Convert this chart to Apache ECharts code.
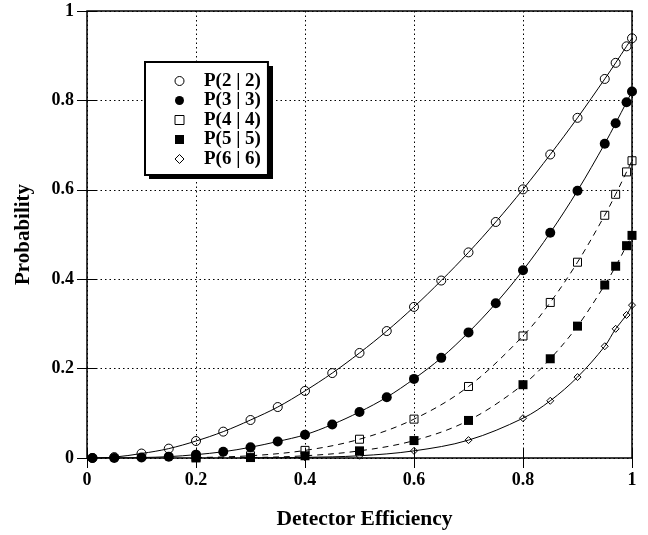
<!DOCTYPE html>
<html>
<head>
<meta charset="utf-8">
<script src="https://cdn.jsdelivr.net/npm/echarts@6/dist/echarts.min.js"></script>
<style>
  html, body { margin: 0; padding: 0; background: #fff; }
  #chart { width: 648px; height: 535px; }
</style>
</head>
<body>
<div id="chart"></div>
<script>
// Detection probability P(n|n) versus detector efficiency
const effFine = [0.01, 0.05, 0.1, 0.15, 0.2, 0.25, 0.3, 0.35, 0.4, 0.45, 0.5, 0.55,
                 0.6, 0.65, 0.7, 0.75, 0.8, 0.85, 0.9, 0.95, 0.97, 0.99, 1.0];
const effCoarse = [0.2, 0.3, 0.4, 0.5, 0.6, 0.7, 0.8, 0.85, 0.9, 0.95, 0.97, 0.99, 1.0];
const effSix = [0.3, 0.4, 0.5, 0.6, 0.7, 0.8, 0.85, 0.9, 0.95, 0.97, 0.99, 1.0];

const p22 = [0.0, 0.002, 0.010, 0.021, 0.038, 0.059, 0.085, 0.114, 0.150, 0.190, 0.235, 0.284,
             0.338, 0.397, 0.460, 0.528, 0.601, 0.679, 0.761, 0.848, 0.884, 0.921, 0.939];
const p33 = [0.0, 0.0, 0.001, 0.003, 0.0075, 0.014, 0.024, 0.037, 0.052, 0.075, 0.103, 0.136,
             0.177, 0.224, 0.281, 0.346, 0.420, 0.504, 0.598, 0.703, 0.749, 0.796, 0.820];
const p44 = [0.001, 0.005, 0.017, 0.042, 0.087, 0.160, 0.273, 0.348, 0.438, 0.543, 0.590, 0.640, 0.665];
const p55 = [0.0002, 0.001, 0.005, 0.016, 0.039, 0.084, 0.164, 0.222, 0.295, 0.387, 0.429, 0.475, 0.498];
const p66 = [0.0002, 0.0014, 0.005, 0.016, 0.040, 0.089, 0.128, 0.181, 0.250, 0.289, 0.320, 0.342];

const seriesNames = ['P(2 | 2)', 'P(3 | 3)', 'P(4 | 4)', 'P(5 | 5)', 'P(6 | 6)'];
const axisTicks = [0, 0.2, 0.4, 0.6, 0.8, 1];

const FONT = '"Liberation Serif", "DejaVu Serif", serif';
const pairs = (xs, ys) => xs.map((x, i) => [x, ys[i]]);

const hollow = { color: 'rgba(0,0,0,0)', borderColor: '#000', borderWidth: 1 };
const solid = { color: '#000', borderColor: '#000', borderWidth: 0 };

function curve(name, data, symbol, size, itemStyle, dashed) {
  return {
    name, type: 'line', data,
    symbol, symbolSize: size,
    smooth: 0.35,
    showAllSymbol: true,
    itemStyle,
    lineStyle: { color: '#000', width: 1, type: dashed ? [6, 5] : 'solid' },
    emphasis: { disabled: true },
    animation: false
  };
}

const valueAxisBase = {
  type: 'value', min: axisTicks[0], max: axisTicks[axisTicks.length - 1], interval: 0.2,
  axisLine: { show: false },
  axisTick: { show: true, inside: true, length: 10, lineStyle: { color: '#000', width: 1 } },
  splitLine: { show: false }
};

const legendMarker = (name, icon, filled) => ({
  name, icon,
  itemStyle: filled ? { color: '#000', borderWidth: 0 } : { color: '#fff', borderColor: '#000', borderWidth: 1 }
});

// legend frame geometry (the drop shadow sits 4px right/down of it)
const LEG_X = 145, LEG_Y = 62, LEG_W = 124, LEG_H = 113;

const chart = echarts.init(document.getElementById('chart'), null, { renderer: 'canvas' });
chart.setOption({
  animation: false,
  backgroundColor: '#fff',
  grid: { left: 87, right: 16, top: 11, bottom: 73, show: true, borderColor: '#000', borderWidth: 1.5 },
  graphic: [{
    type: 'rect', z: 4, silent: true,
    shape: { x: LEG_X + 4, y: LEG_Y + 4, width: LEG_W, height: LEG_H },
    style: { fill: '#000' }
  }],
  legend: {
    orient: 'vertical', left: LEG_X, top: LEG_Y,
    padding: [9.5, 7, 6.5, 29.5],
    itemWidth: 9, itemHeight: 9, itemGap: 0.5,
    backgroundColor: '#fff', borderColor: '#000', borderWidth: 2,
    selectedMode: false,
    z: 5,
    formatter: name => '{gap|}' + name,
    textStyle: {
      fontFamily: FONT, fontWeight: 'bold', fontSize: 19, color: '#000', lineHeight: 19,
      rich: { gap: { width: 15, lineHeight: 19 } }
    },
    data: [
      legendMarker(seriesNames[0], 'circle', false),
      legendMarker(seriesNames[1], 'circle', true),
      legendMarker(seriesNames[2], 'rect', false),
      legendMarker(seriesNames[3], 'rect', true),
      legendMarker(seriesNames[4], 'diamond', false)
    ]
  },
  xAxis: [
    Object.assign({}, valueAxisBase, {
      position: 'bottom',
      name: 'Detector Efficiency', nameLocation: 'middle', nameGap: 50,
      nameTextStyle: {
        fontFamily: FONT, fontWeight: 'bold', fontSize: 21.5, color: '#000',
        verticalAlign: 'top', padding: [0, 0, 0, 10]
      },
      axisLabel: { fontFamily: FONT, fontWeight: 'bold', fontSize: 18, color: '#000', margin: 13 },
      splitLine: { show: true, lineStyle: { color: '#000', width: 1, type: [1.5, 3] } }
    }),
    Object.assign({}, valueAxisBase, { position: 'top', axisLabel: { show: false } })
  ],
  yAxis: [
    Object.assign({}, valueAxisBase, {
      position: 'left',
      name: 'Probability', nameLocation: 'middle', nameGap: 53,
      nameTextStyle: { fontFamily: FONT, fontWeight: 'bold', fontSize: 21, color: '#000' },
      axisLabel: { fontFamily: FONT, fontWeight: 'bold', fontSize: 18, color: '#000', margin: 13 },
      splitLine: { show: true, lineStyle: { color: '#000', width: 1, type: [1.5, 3] } }
    }),
    Object.assign({}, valueAxisBase, { position: 'right', axisLabel: { show: false } })
  ],
  series: [
    curve(seriesNames[0], pairs(effFine, p22), 'circle', 9, hollow, false),
    curve(seriesNames[1], pairs(effFine, p33), 'circle', 10, solid, false),
    curve(seriesNames[2], pairs(effCoarse, p44), 'rect', 8, hollow, true),
    curve(seriesNames[3], pairs(effCoarse, p55), 'rect', 9, solid, true),
    curve(seriesNames[4], pairs(effSix, p66), 'diamond', 7, hollow, false)
  ]
});
</script>
</body>
</html>
